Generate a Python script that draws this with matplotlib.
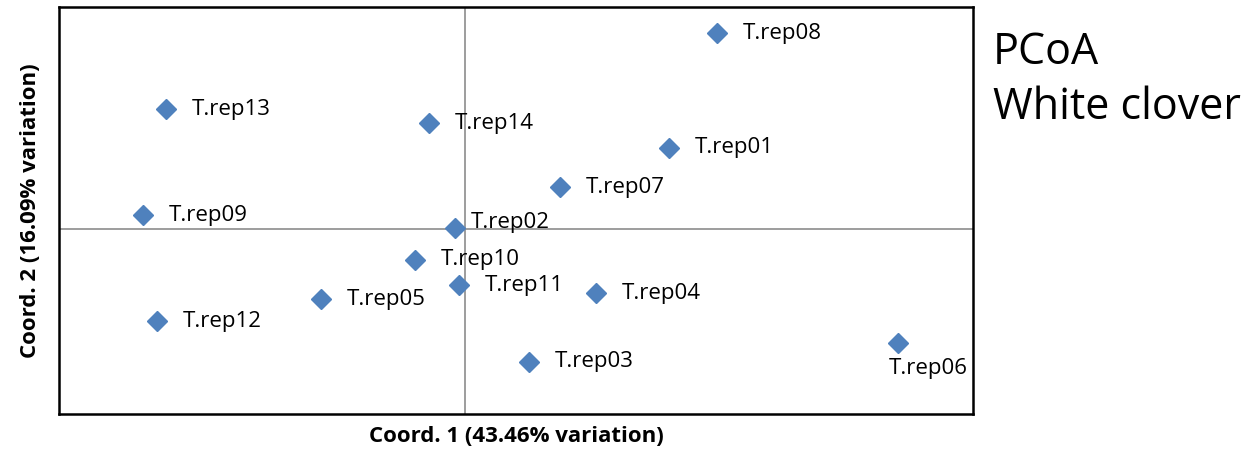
import numpy as np
import matplotlib.pyplot as plt

labels = ["T.rep01", "T.rep02", "T.rep03", "T.rep04", "T.rep05", "T.rep06", "T.rep07",
          "T.rep08", "T.rep09", "T.rep10", "T.rep11", "T.rep12", "T.rep13", "T.rep14"]
coord1 = [0.204, -0.010, 0.064, 0.131, -0.144, 0.433, 0.095,
          0.252, -0.322, -0.050, -0.006, -0.308, -0.299, -0.036]
coord2 = [0.081, 0.001, -0.133, -0.064, -0.070, -0.114, 0.042,
          0.196, 0.014, -0.031, -0.056, -0.092, 0.120, 0.106]

plt.rcParams['font.family'] = ['Open Sans', 'DejaVu Sans']

fig = plt.figure(figsize=(12.56, 4.49), dpi=100)
ax = fig.add_axes([59 / 1256, 1 - 414 / 449, 914 / 1256, 407 / 449])

ax.axhline(0, color="#8c8c8c", lw=1.2, zorder=1)
ax.axvline(0, color="#8c8c8c", lw=1.2, zorder=1)
ax.plot(coord1, coord2, "D", color="#4F81BD", markersize=10, zorder=3, linestyle="none")

fs = 16
for lab, x, y in zip(labels, coord1, coord2):
    if lab == "T.rep06":
        ax.annotate(lab, (x, y), xytext=(-7, -11), textcoords="offset points",
                    ha="left", va="top", fontsize=fs)
    elif lab == "T.rep02":
        ax.annotate(lab, (x, y), xytext=(11, 4), textcoords="offset points",
                    ha="left", va="center", fontsize=fs)
    else:
        ax.annotate(lab, (x, y), xytext=(18.5, 0), textcoords="offset points",
                    ha="left", va="center", fontsize=fs)

ax.set_xlim(-0.406, 0.508)
ax.set_ylim(-0.185, 0.222)
ax.set_xticks([])
ax.set_yticks([])
for s in ax.spines.values():
    s.set_linewidth(1.8)

ax.set_xlabel("Coord. 1 (43.46% variation)", fontsize=16, fontweight="bold", va="center")
ax.set_ylabel("Coord. 2 (16.09% variation)", fontsize=16, fontweight="bold", va="center")
ax.xaxis.set_label_coords(0.5, (414 - 436) / 407)
ax.yaxis.set_label_coords((30 - 59) / 914, 0.5)

fig.text(993 / 1256, 1 - 64 / 449, "PCoA", fontsize=31, va="baseline", ha="left")
fig.text(993 / 1256, 1 - 119 / 449, "White clover", fontsize=31, va="baseline", ha="left")

fig.savefig("out.png", dpi=100)
